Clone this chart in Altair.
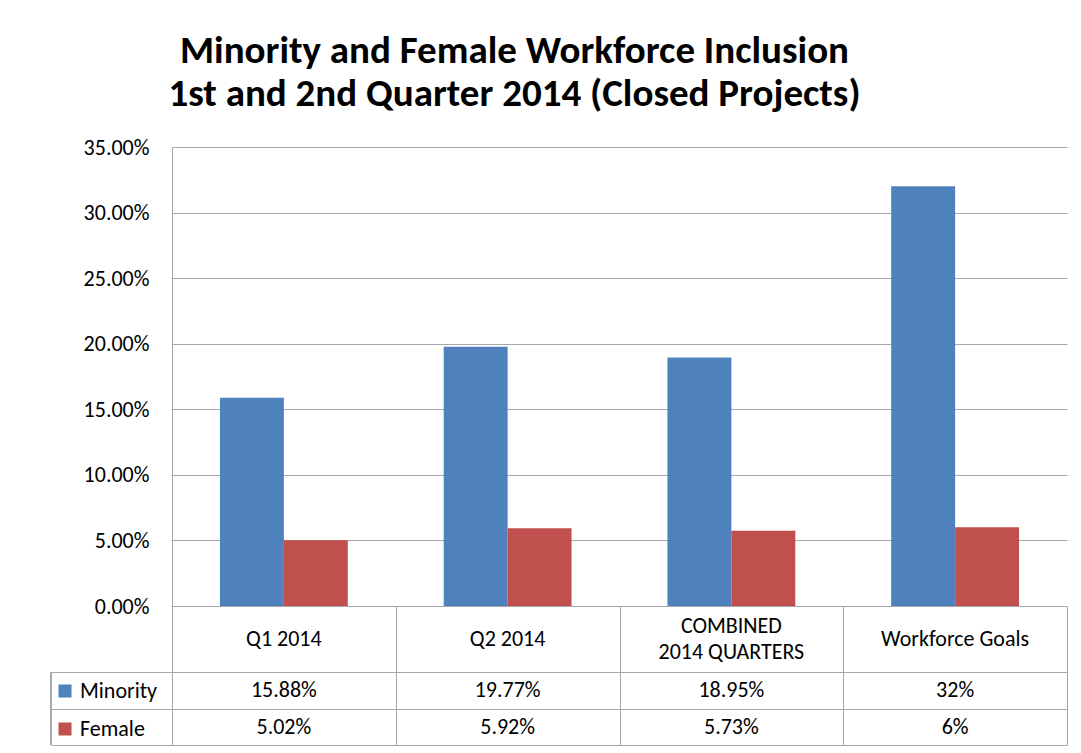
import altair as alt
import pandas as pd

categories = ["Q1 2014", "Q2 2014", "COMBINED|2014 QUARTERS", "Workforce Goals"]
series = ["Minority", "Female"]
minority = [0.1588, 0.1977, 0.1895, 0.32]
female = [0.0502, 0.0592, 0.0573, 0.06]
minority_labels = ["15.88%", "19.77%", "18.95%", "32%"]
female_labels = ["5.02%", "5.92%", "5.73%", "6%"]
y_ticks = [0, 0.05, 0.10, 0.15, 0.20, 0.25, 0.30, 0.35]
colors = ["#4F81BD", "#C0504D"]

rows = []
for c, v, l in zip(categories, minority, minority_labels):
    rows.append({"category": c, "series": "Minority", "value": v, "label": l})
for c, v, l in zip(categories, female, female_labels):
    rows.append({"category": c, "series": "Female", "value": v, "label": l})
df = pd.DataFrame(rows)
hdf = pd.DataFrame({"category": categories})

FONT = "Carlito, Calibri, Lato, sans-serif"
GRID = "#A6A6A6"
W = 895
FS = 22

cat_scale = alt.Scale(domain=categories, paddingInner=0, paddingOuter=0)
color_scale = alt.Scale(domain=series, range=colors)

bars = alt.Chart(df).mark_bar().encode(
    x=alt.X("category:N", scale=cat_scale, sort=categories, axis=None),
    xOffset=alt.XOffset("series:N", sort=series,
                        scale=alt.Scale(domain=series, paddingInner=0, paddingOuter=0.75)),
    y=alt.Y("value:Q", scale=alt.Scale(domain=[0, 0.35]),
            axis=alt.Axis(values=y_ticks, format=".2%", title=None, grid=True,
                          gridColor=GRID, domainColor=GRID, ticks=False,
                          labelPadding=23, labelFont=FONT, labelFontSize=FS,
                          labelColor="black")),
    color=alt.Color("series:N", scale=color_scale, legend=None),
).properties(
    width=W, height=459,
    view=alt.ViewBackground(stroke="transparent"),
    title=alt.TitleParams(
        text=["Minority and Female Workforce Inclusion",
              "1st and 2nd Quarter 2014 (Closed Projects)"],
        font=FONT, fontSize=39, fontWeight="bold", color="black",
        anchor="middle", dx=-105, lineHeight=43, offset=22),
)

hx = alt.X("category:N", scale=cat_scale, sort=categories,
           axis=alt.Axis(title=None, labels=False, ticks=False, domain=False,
                         grid=True, gridColor=GRID, tickBand="extent"))
header_single = alt.Chart(hdf).transform_filter(
    "indexof(datum.category, '|') < 0"
).mark_text(font=FONT, fontSize=FS, color="black").encode(
    x=hx, text="category:N",
)
header_multi = alt.Chart(hdf).transform_filter(
    "indexof(datum.category, '|') >= 0"
).mark_text(font=FONT, fontSize=FS, lineBreak="|", lineHeight=26, dy=-13,
            color="black").encode(
    x=hx, text="category:N",
)
header = alt.layer(header_single, header_multi).properties(
    width=W, height=66, view=alt.ViewBackground(stroke=GRID)
)

ycol = alt.Y("series:N", sort=series,
             scale=alt.Scale(domain=series, paddingInner=0, paddingOuter=0),
             axis=alt.Axis(title=None, labels=False, ticks=True, tickSize=121,
                           tickBand="extent", tickColor=GRID, domain=False,
                           grid=True, gridColor=GRID))

cells = alt.Chart(df).mark_text(font=FONT, fontSize=FS, color="black").encode(
    x=alt.X("category:N", scale=cat_scale, sort=categories,
            axis=alt.Axis(title=None, labels=False, ticks=False, domain=False,
                          grid=True, gridColor=GRID, tickBand="extent")),
    y=ycol,
    text="label:N",
)
legend_layer = alt.Chart(df).mark_square(opacity=0, filled=True).encode(
    x=alt.X("category:N", scale=cat_scale, sort=categories),
    y=alt.Y("series:N", sort=series),
    color=alt.Color("series:N", scale=color_scale,
                    legend=alt.Legend(orient="none", legendX=-118, legendY=8,
                                      title=None, symbolType="square",
                                      symbolSize=169, symbolStrokeWidth=0,
                                      symbolOpacity=1,
                                      labelFont=FONT, labelFontSize=FS,
                                      labelColor="black", labelOffset=4,
                                      rowPadding=16, padding=0)),
)
left_border = alt.Chart(hdf).mark_rule(color=GRID).encode(
    x=alt.value(-121), y=alt.value(0), y2=alt.value(73)
)
table = alt.layer(cells, legend_layer, left_border).properties(
    width=W, height=73, view=alt.ViewBackground(stroke=GRID)
)

chart = alt.vconcat(bars, header, table, spacing=0, bounds="flush").resolve_scale(
    color="independent"
).properties(
    padding={"left": 42, "top": 23, "right": 5, "bottom": 0}
).configure(background="white")

chart.save("out.html", embed_options={"renderer": "svg", "actions": False})
